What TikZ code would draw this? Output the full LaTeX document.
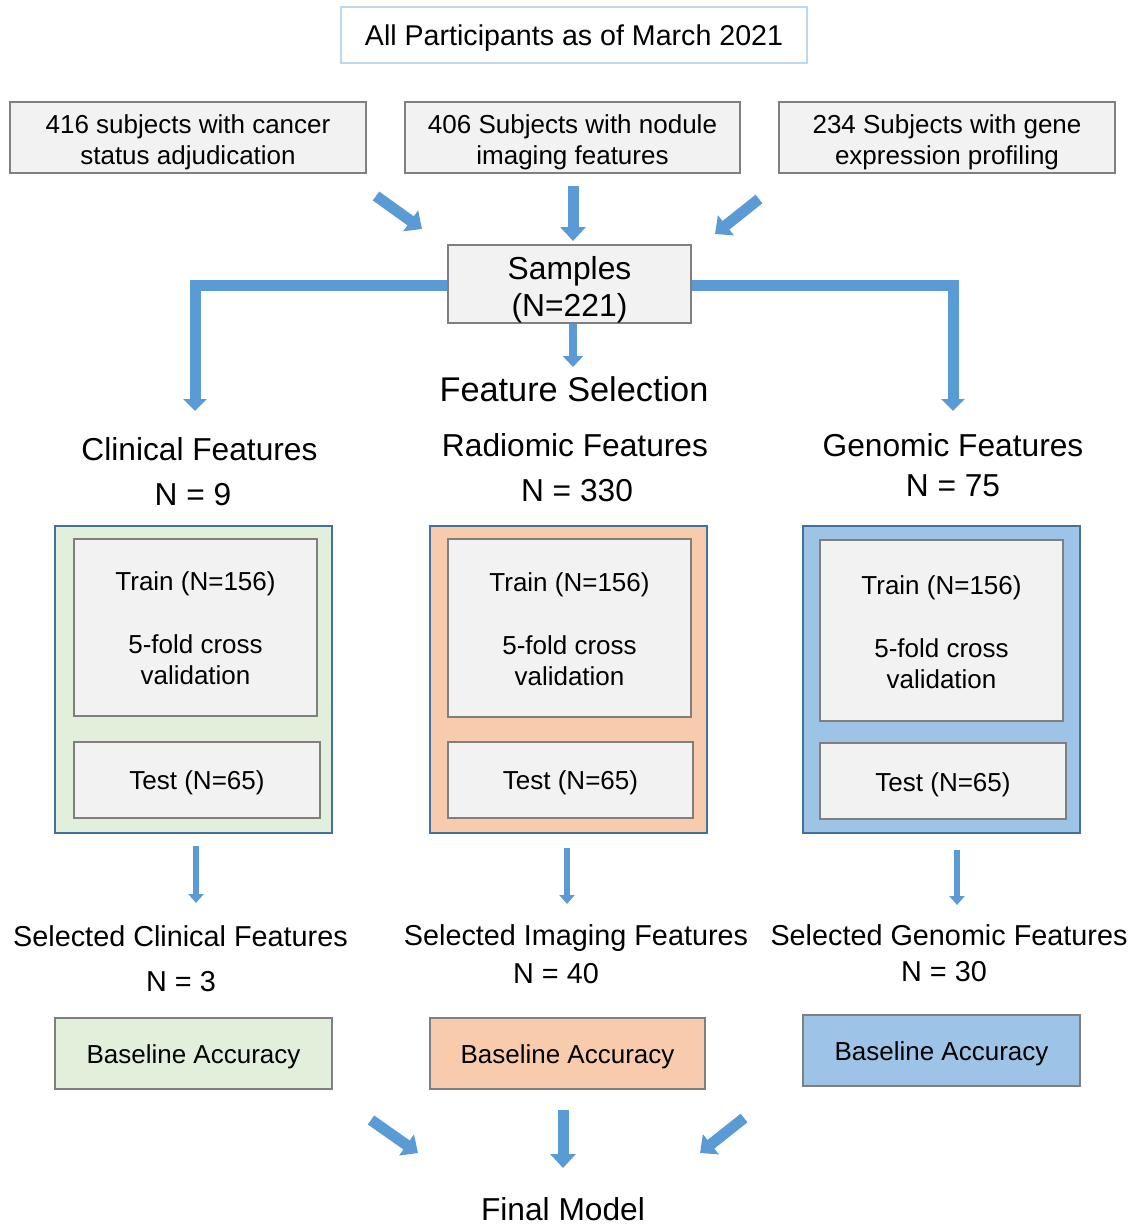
\documentclass[tikz,border=0pt]{standalone}
\usepackage{fontspec}
\setmainfont{Liberation Sans}
\usetikzlibrary{arrows.meta}
\definecolor{arrowblue}{HTML}{5B9BD5}
\definecolor{boxgray}{HTML}{F2F2F2}
\definecolor{boxline}{HTML}{7F7F7F}
\definecolor{panelline}{HTML}{41719C}
\definecolor{greenfill}{HTML}{E2EFDA}
\definecolor{orangefill}{HTML}{F8CBAD}
\definecolor{bluefill}{HTML}{9DC3E6}
\definecolor{topline}{HTML}{BDD7EE}
\begin{document}
\begin{tikzpicture}[x=1pt,y=-1pt,
  graybox/.style={draw=boxline, line width=2.2pt, fill=boxgray, inner sep=0pt},
  boxtxt/.style={inner sep=0pt, align=center, font=\fontsize{26}{31}\selectfont},
  panel/.style={draw=panelline, line width=2pt, inner sep=0pt},
  basebox/.style={draw=boxline, line width=2.2pt, inner sep=0pt, minimum height=71pt},
  lbl/.style={inner sep=0pt, anchor=base},
  biglbl/.style={lbl, font=\fontsize{31.7}{36}\selectfont},
  midlbl/.style={lbl, font=\fontsize{28.8}{33}\selectfont},
  blockarrow/.style={draw=arrowblue, line width=11pt, -{Triangle[width=25pt,length=14pt]}},
  brancharrow/.style={draw=arrowblue, line width=11pt, line join=miter, -{Triangle[width=23pt,length=12pt]}},
  midarrow/.style={draw=arrowblue, line width=8pt, -{Triangle[width=20pt,length=11pt]}},
  thinarrow/.style={draw=arrowblue, line width=6pt, -{Triangle[width=15pt,length=9pt]}}
]
\useasboundingbox (0,0) rectangle (1137,1224);

% top
\node[draw=topline, line width=2pt, fill=white, minimum width=466pt, minimum height=56pt, inner sep=0pt] (top) at (574,35) {};
\node[boxtxt, font=\fontsize{28.6}{33}\selectfont] (topt) at ([yshift=-3pt]top.center) {All Participants as of March 2021};

% row 2
\node[graybox, minimum width=356pt, minimum height=71pt] (b1) at (188,137.5) {};
\node[boxtxt] (b1t) at ([yshift=-4.5pt]b1.center) {416 subjects with cancer\\status adjudication};
\node[graybox, minimum width=335pt, minimum height=71pt] (b2) at (572.5,137.5) {};
\node[boxtxt] (b2t) at ([yshift=-4.5pt]b2.center) {406 Subjects with nodule\\imaging features};
\node[graybox, minimum width=336pt, minimum height=71pt] (b3) at (947,137.5) {};
\node[boxtxt] (b3t) at ([yshift=-4.5pt]b3.center) {234 Subjects with gene\\expression profiling};

% samples
\node[graybox, minimum width=243pt, minimum height=78pt] (samples) at (569.5,284) {};
\node[boxtxt, font=\fontsize{31.8}{37}\selectfont] (samplest) at ([yshift=-5.5pt]samples.center) {Samples\\(N=221)};

% feed arrows
\coordinate (f1s) at (376,196); \coordinate (f1e) at (422,229);
\coordinate (f2s) at (573,186); \coordinate (f2e) at (573,241);
\coordinate (f3s) at (759,199); \coordinate (f3e) at (715,234);
\draw[blockarrow] (f1s) -- (f1e);
\draw[blockarrow] (f2s) -- (f2e);
\draw[blockarrow] (f3s) -- (f3e);

% branches
\coordinate (clEnd) at (195,411);
\coordinate (geEnd) at (953,411);
\coordinate (fsEnd) at (573,367);
\draw[brancharrow] (samples.west |- 0,285) -| (clEnd);
\draw[brancharrow] (samples.east |- 0,285) -| (geEnd);
\draw[midarrow] (samples.south -| fsEnd) -- (fsEnd);

\node[lbl, font=\fontsize{34.3}{40}\selectfont] (fs) at (574,401) {Feature Selection};

% feature labels
\node[biglbl] (clin) at (199.5,460) {Clinical Features};
\node[biglbl] (clinN) at (193,505) {N = 9};
\node[biglbl] (rad) at (575,456) {Radiomic Features};
\node[biglbl] (radN) at (577,501) {N = 330};
\node[biglbl] (gen) at (953,456) {Genomic Features};
\node[biglbl] (genN) at (953,496) {N = 75};

% panels
\node[panel, fill=greenfill, minimum width=277pt, minimum height=307pt] (pg) at (193.5,679.5) {};
\node[panel, fill=orangefill, minimum width=277pt, minimum height=307pt] (po) at (568.5,679.5) {};
\node[panel, fill=bluefill, minimum width=277pt, minimum height=307pt] (pb) at (941.5,679.5) {};

\node[graybox, minimum width=243pt, minimum height=177pt] (tg) at (195.5,627.5) {};
\node[boxtxt] (tgt) at ([yshift=-1pt]tg.center) {Train (N=156)\\[32pt]5-fold cross\\validation};
\node[graybox, minimum width=246pt, minimum height=76pt] (sg) at (197,780) {};
\node[boxtxt] (sgt) at ([yshift=-3pt]sg.center) {Test (N=65)};
\node[graybox, minimum width=243pt, minimum height=178pt] (to) at (569.5,628) {};
\node[boxtxt] (tot) at ([yshift=-1pt]to.center) {Train (N=156)\\[32pt]5-fold cross\\validation};
\node[graybox, minimum width=245pt, minimum height=76pt] (so) at (570.5,780) {};
\node[boxtxt] (sot) at ([yshift=-3pt]so.center) {Test (N=65)};
\node[graybox, minimum width=243pt, minimum height=181pt] (tb) at (941.5,630.5) {};
\node[boxtxt] (tbt) at ([yshift=-2pt]tb.center) {Train (N=156)\\[32pt]5-fold cross\\validation};
\node[graybox, minimum width=246pt, minimum height=76pt] (sb) at (943,781) {};
\node[boxtxt] (sbt) at ([yshift=-3.5pt]sb.center) {Test (N=65)};

% down arrows
\coordinate (d1s) at (196,846); \coordinate (d1e) at (196,903);
\coordinate (d2s) at (567,848); \coordinate (d2e) at (567,904);
\coordinate (d3s) at (957,850); \coordinate (d3e) at (957,905);
\draw[thinarrow] (d1s) -- (d1e);
\draw[thinarrow] (d2s) -- (d2e);
\draw[thinarrow] (d3s) -- (d3e);

% selected labels
\node[midlbl] (sc) at (180.5,946) {Selected Clinical Features};
\node[midlbl] (scN) at (181,991) {N = 3};
\node[midlbl] (si) at (576,945) {Selected Imaging Features};
\node[midlbl] (siN) at (556,983) {N = 40};
\node[midlbl] (sgf) at (949,945) {Selected Genomic Features};
\node[midlbl] (sgN) at (944,981) {N = 30};

% baseline boxes
\node[basebox, fill=greenfill, minimum width=277pt] (bg) at (193.5,1053.5) {};
\node[boxtxt] (bgt) at ([yshift=-3pt]bg.center) {Baseline Accuracy};
\node[basebox, fill=orangefill, minimum width=275pt] (bo) at (567.5,1053.5) {};
\node[boxtxt] (bot) at ([yshift=-3pt]bo.center) {Baseline Accuracy};
\node[basebox, fill=bluefill, minimum width=277pt] (bb) at (941.5,1050.5) {};
\node[boxtxt] (bbt) at ([yshift=-3pt]bb.center) {Baseline Accuracy};

% final arrows
\coordinate (e1s) at (371,1120); \coordinate (e1e) at (418,1153);
\coordinate (e2s) at (563,1110); \coordinate (e2e) at (563,1168);
\coordinate (e3s) at (744,1118); \coordinate (e3e) at (700,1153);
\draw[blockarrow] (e1s) -- (e1e);
\draw[blockarrow] (e2s) -- (e2e);
\draw[blockarrow] (e3s) -- (e3e);

\node[biglbl] (final) at (563,1220) {Final Model};
\end{tikzpicture}
\end{document}
